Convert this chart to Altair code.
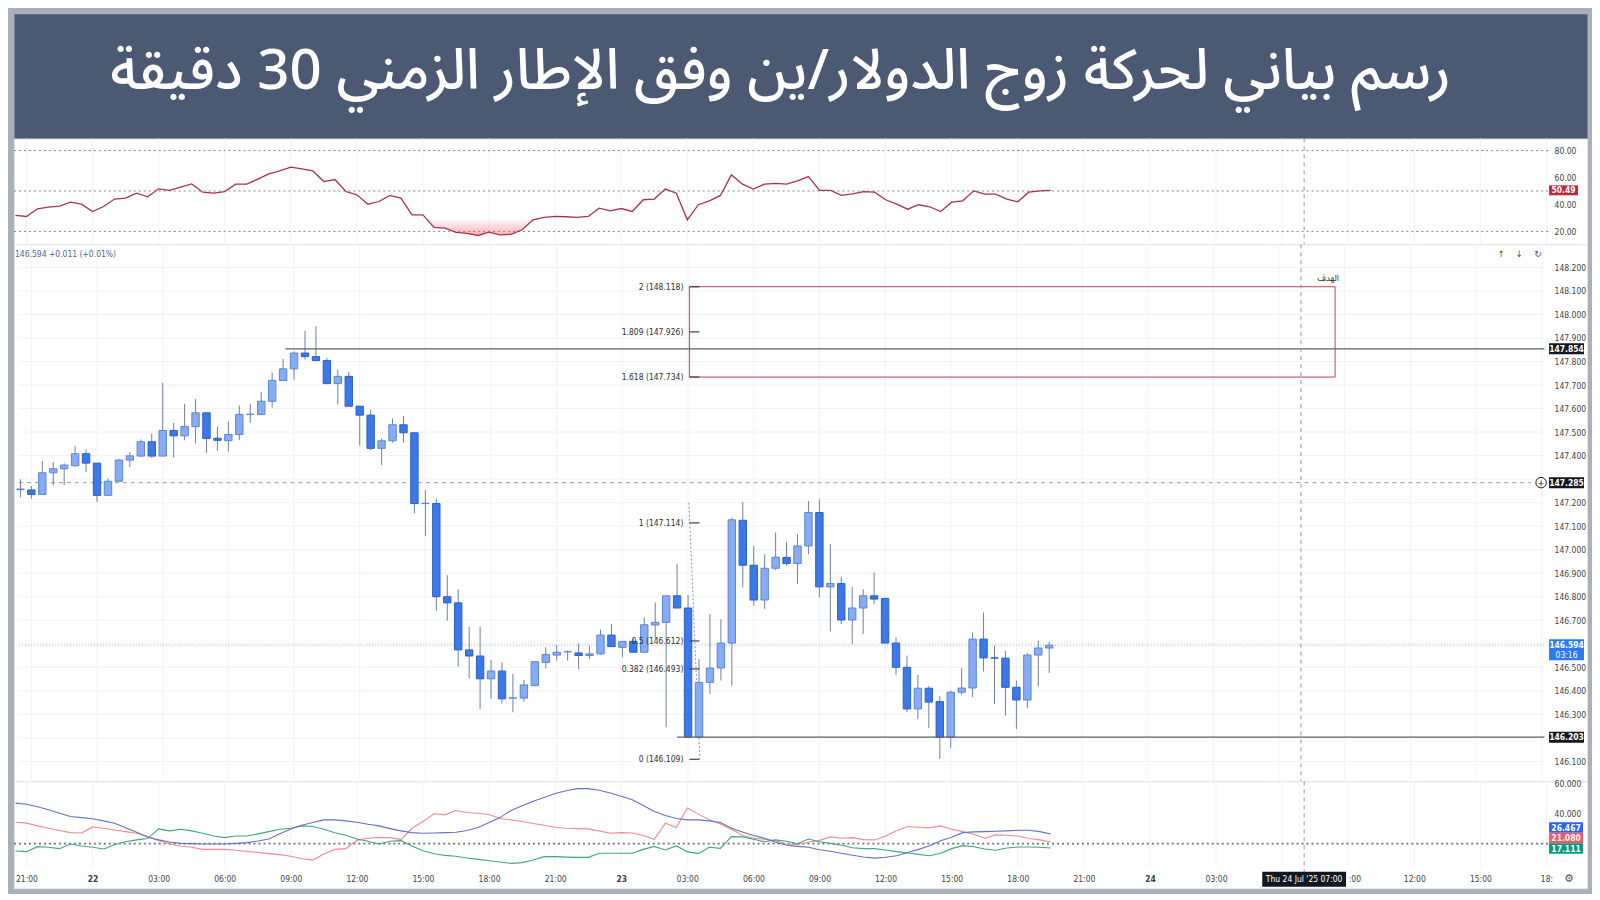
import altair as alt
import pandas as pd

TITLE = "رسم بياني لحركة زوج الدولار/ين وفق الإطار الزمني 30 دقيقة"

# ---- 30-minute USD/JPY candles (first bar = Mon 21 Jul 20:30) ----
OPEN = [147.255, 147.254, 147.235, 147.327, 147.344, 147.357, 147.408, 147.368, 147.231, 147.291,
        147.381, 147.398, 147.459, 147.398, 147.507, 147.484, 147.523, 147.582, 147.474, 147.463,
        147.490, 147.575, 147.575, 147.631, 147.719, 147.769, 147.836, 147.821, 147.804, 147.706,
        147.737, 147.610, 147.572, 147.431, 147.463, 147.531, 147.497, 147.196, 147.196, 146.800,
        146.774, 146.574, 146.548, 146.451, 146.484, 146.369, 146.369, 146.422, 146.521, 146.552,
        146.566, 146.561, 146.550, 146.557, 146.637, 146.585, 146.610, 146.564, 146.680, 146.691,
        146.804, 146.752, 146.203, 146.436, 146.497, 146.603, 147.125, 146.934, 146.786, 146.921,
        146.967, 146.941, 147.016, 147.158, 146.842, 146.856, 146.701, 146.752, 146.804, 146.793,
        146.603, 146.500, 146.323, 146.411, 146.354, 146.203, 146.394, 146.412, 146.620, 146.540,
        146.539, 146.415, 146.361, 146.552, 146.582]
HIGH = [147.299, 147.271, 147.377, 147.373, 147.367, 147.440, 147.426, 147.368, 147.302, 147.387,
        147.415, 147.469, 147.493, 147.709, 147.539, 147.620, 147.641, 147.582, 147.524, 147.545,
        147.613, 147.620, 147.670, 147.754, 147.811, 147.843, 147.931, 147.950, 147.815, 147.766,
        147.756, 147.610, 147.596, 147.473, 147.558, 147.568, 147.497, 147.254, 147.217, 146.892,
        146.832, 146.673, 146.673, 146.531, 146.521, 146.472, 146.446, 146.524, 146.585, 146.595,
        146.572, 146.602, 146.592, 146.660, 146.684, 146.610, 146.620, 146.712, 146.776, 146.804,
        146.941, 146.807, 146.535, 146.726, 146.705, 147.136, 147.203, 147.016, 146.981, 147.073,
        147.033, 147.066, 147.207, 147.214, 147.023, 146.885, 146.842, 146.832, 146.903, 146.793,
        146.627, 146.550, 146.468, 146.420, 146.377, 146.401, 146.497, 146.649, 146.733, 146.592,
        146.571, 146.443, 146.561, 146.613, 146.609]
LOW = [147.222, 147.217, 147.235, 147.274, 147.274, 147.353, 147.330, 147.203, 147.231, 147.291,
       147.351, 147.394, 147.391, 147.398, 147.391, 147.465, 147.452, 147.412, 147.421, 147.418,
       147.466, 147.539, 147.575, 147.603, 147.719, 147.723, 147.808, 147.804, 147.706, 147.617,
       147.610, 147.443, 147.423, 147.361, 147.455, 147.455, 147.155, 147.059, 146.740, 146.698,
       146.503, 146.453, 146.323, 146.366, 146.347, 146.309, 146.354, 146.422, 146.496, 146.528,
       146.528, 146.493, 146.535, 146.553, 146.588, 146.542, 146.561, 146.564, 146.620, 146.245,
       146.752, 146.203, 146.203, 146.387, 146.444, 146.422, 146.839, 146.762, 146.747, 146.913,
       146.931, 146.854, 146.981, 146.797, 146.653, 146.684, 146.599, 146.641, 146.769, 146.603,
       146.468, 146.309, 146.281, 146.241, 146.111, 146.156, 146.383, 146.373, 146.482, 146.344,
       146.295, 146.238, 146.326, 146.419, 146.476]
CLOSE = [147.258, 147.235, 147.327, 147.344, 147.360, 147.408, 147.368, 147.231, 147.291, 147.381,
         147.399, 147.459, 147.398, 147.507, 147.484, 147.524, 147.582, 147.473, 147.465, 147.490,
         147.575, 147.576, 147.631, 147.720, 147.769, 147.836, 147.821, 147.804, 147.706, 147.737,
         147.610, 147.572, 147.431, 147.463, 147.531, 147.497, 147.196, 147.197, 146.800, 146.774,
         146.574, 146.548, 146.451, 146.484, 146.366, 146.370, 146.425, 146.524, 146.554, 146.564,
         146.566, 146.550, 146.557, 146.637, 146.588, 146.610, 146.564, 146.681, 146.691, 146.804,
         146.752, 146.203, 146.436, 146.497, 146.603, 147.127, 146.934, 146.786, 146.921, 146.968,
         146.941, 147.016, 147.158, 146.842, 146.856, 146.701, 146.752, 146.804, 146.790, 146.603,
         146.500, 146.323, 146.411, 146.352, 146.203, 146.394, 146.412, 146.620, 146.540, 146.539,
         146.415, 146.361, 146.552, 146.582, 146.594]

RSI = [31.9, 31.1, 36.8, 38.0, 38.8, 41.7, 40.2, 34.8, 38.5, 44.0,
       44.7, 48.4, 45.7, 51.6, 50.4, 52.8, 55.3, 49.1, 48.4, 49.6,
       55.1, 55.1, 58.8, 62.7, 64.9, 67.7, 66.4, 64.9, 57.0, 58.5,
       49.6, 47.2, 40.2, 42.2, 46.7, 44.7, 32.3, 32.3, 23.0, 22.5,
       19.3, 18.5, 17.0, 19.5, 17.5, 17.8, 21.2, 28.6, 30.4, 31.1,
       30.9, 30.4, 31.1, 37.3, 35.3, 37.0, 34.8, 43.5, 44.0, 51.4,
       48.4, 28.6, 39.8, 42.7, 46.7, 62.0, 55.1, 51.4, 55.1, 55.6,
       55.1, 57.5, 60.7, 50.4, 50.4, 46.7, 47.9, 49.6, 49.1, 43.5,
       40.2, 36.5, 39.8, 38.3, 34.8, 41.7, 42.7, 50.1, 47.7, 47.7,
       44.0, 42.0, 49.1, 50.1, 50.49]

ADX = [46.9, 46.2, 44.5, 42.5, 40.2, 38.0, 37.3, 36.5, 35.1, 33.6,
       30.5, 27.6, 24.2, 22.5, 21.1, 20.2, 20.0, 19.8, 19.8, 19.8,
       20.2, 20.7, 21.8, 23.1, 26.5, 29.8, 32.2, 34.0, 35.8, 35.8,
       35.1, 34.2, 32.9, 31.8, 30.0, 28.5, 27.3, 26.9, 27.1, 27.3,
       27.6, 28.7, 30.7, 34.0, 37.3, 42.0, 45.1, 48.2, 50.7, 53.3,
       55.1, 56.5, 56.5, 55.4, 53.6, 51.4, 49.1, 45.3, 41.4, 38.7,
       36.7, 35.8, 35.8, 35.1, 34.0, 30.2, 27.8, 25.4, 23.6, 20.9,
       18.9, 18.2, 17.6, 16.0, 15.0, 13.6, 12.3, 11.2, 10.4, 11.0,
       12.0, 14.2, 16.2, 18.6, 22.0, 24.2, 27.3, 27.8, 28.0, 28.2,
       28.5, 28.9, 28.9, 28.0, 26.467]
DI_MINUS = [34.2, 33.6, 31.8, 30.2, 28.7, 27.3, 27.1, 31.1, 30.2, 29.1,
            28.0, 26.9, 24.7, 22.0, 19.8, 18.5, 17.6, 16.2, 16.2, 16.2,
            15.6, 14.9, 14.2, 13.4, 12.7, 11.6, 10.0, 9.1, 13.1, 16.2,
            16.7, 22.2, 23.6, 24.2, 24.0, 22.7, 30.2, 34.7, 39.8, 39.1,
            42.0, 40.7, 40.2, 39.4, 36.7, 35.8, 34.7, 33.4, 32.2, 30.9,
            30.2, 30.0, 29.8, 28.5, 26.9, 27.3, 27.1, 25.4, 22.9, 33.6,
            30.7, 43.6, 39.6, 35.8, 33.1, 29.6, 25.6, 23.6, 22.9, 22.0,
            19.8, 19.3, 20.9, 22.2, 24.5, 23.6, 24.0, 22.7, 22.5, 25.1,
            28.5, 31.4, 30.9, 30.5, 31.8, 29.6, 28.0, 26.2, 23.6, 25.8,
            25.6, 25.1, 23.4, 22.5, 21.08]
DI_PLUS = [15.1, 14.7, 18.0, 17.6, 16.7, 19.8, 18.5, 17.6, 16.5, 19.3,
           21.3, 22.5, 23.4, 29.8, 28.5, 29.6, 28.5, 26.9, 25.1, 24.0,
           25.1, 25.1, 26.5, 28.0, 29.6, 30.2, 31.8, 31.4, 29.6, 27.3,
           25.6, 23.1, 21.6, 19.8, 21.6, 22.0, 18.5, 15.3, 13.3, 12.2,
           11.6, 10.5, 9.6, 8.7, 7.8, 6.9, 7.4, 9.1, 11.4, 11.4,
           11.1, 10.9, 10.9, 13.6, 13.6, 13.6, 13.6, 16.2, 18.2, 15.8,
           18.5, 14.7, 13.4, 17.6, 16.9, 24.7, 24.5, 22.9, 21.3, 22.5,
           21.6, 20.0, 23.1, 21.3, 20.2, 18.9, 17.3, 16.7, 16.7, 15.8,
           14.7, 13.8, 12.9, 12.0, 13.6, 16.7, 18.7, 18.0, 16.5, 15.6,
           17.1, 17.8, 17.8, 17.6, 17.111]

# time axis: hours counted from Mon 21 Jul 21:00; 30-minute bars
FIRST_BAR_H = -0.5
BAR_STEP_H = 0.5
X_TICKS = [0, 3, 6, 9, 12, 15, 18, 21, 24, 27, 30, 33, 36, 39, 42, 45, 48, 51, 54, 60, 63, 66, 69]
GRID_TICKS = list(range(0, 70, 3))
CROSS_H = 58                      # Thu 24 Jul 07:00
CROSS_LABEL = "Thu 24 Jul '25    07:00"
PARTIAL_TICKS = {60: ":00", 69: "18:"}   # labels partly hidden in the screenshot

# price labels hidden behind the value tags are left out (146.2, 146.6, 147.3)
PRICE_TICKS = [146.1, 146.3, 146.4, 146.5, 146.7, 146.8, 146.9, 147.0, 147.1,
               147.2, 147.4, 147.5, 147.6, 147.7, 147.8, 147.9, 148.0, 148.1, 148.2]
PRICE_GRID = [146.1, 146.2, 146.3, 146.4, 146.5, 146.6, 146.7, 146.8, 146.9, 147.0, 147.1,
              147.2, 147.3, 147.4, 147.5, 147.6, 147.7, 147.8, 147.9, 148.0, 148.1, 148.2]
RSI_TICKS = [20, 40, 60, 80]
RSI_LEVELS = [80, 50, 20]
DMI_TICKS = [40, 60]
DMI_LEVEL = 20

FIB_RATIOS = ["2", "1.809", "1.618", "1", "0.5", "0.382", "0"]
FIB_PRICES = [148.118, 147.926, 147.734, 147.114, 146.612, 146.493, 146.109]
FIB_START_H = 30.06
FIB_TICK_END_H = 30.52
FIB_TREND_H = [30.04, 30.54]
FIB_TREND_P = [147.200, 146.109]
TARGET_END_H = 59.56
TARGET_TOP, TARGET_BOTTOM = 148.118, 147.734
TARGET_LABEL = "الهدف"
RESIST, RESIST_START_H = 147.854, 11.6
SUPPORT, SUPPORT_START_H = 146.203, 29.5
ALERT, ALERT_END_H = 147.285, 68.5
LAST = 146.594
LAST_INFO = "146.594 +0.011 (+0.01%)"
COUNTDOWN = "03:16"

# ---- styling ----
FRAME = "#aab0b9"
TITLE_BG = "#4b5a72"
FONT = "Liberation Sans Narrow, DejaVu Sans Condensed, Roboto, sans-serif"
AR_FONT = "Noto Sans Arabic, Noto Naskh Arabic, DejaVu Sans, sans-serif"
UP_FILL, UP_STROKE = "#88acf2", "#5a85db"
DN_FILL, DN_STROKE = "#3d79e6", "#2a5ecd"
WICK = "#6f7ea3"
GRID = "#f0f2f6"
LBL = "#3c3f47"

W = 1576
TITLE_HT, RSI_HT, MAIN_HT, DMI_HT = 125, 106, 538, 107
XMIN, XMAX = -0.566, 70.84
AXIS_EDGE_H = 69.12
xs = alt.Scale(domain=[XMIN, XMAX], nice=False, zero=False)

N = len(OPEN)
H = [FIRST_BAR_H + BAR_STEP_H * i for i in range(N)]
candles = pd.DataFrame({"h": H, "open": OPEN, "high": HIGH, "low": LOW, "close": CLOSE})


def X(field, axis=None):
    return alt.X(f"{field}:Q", scale=xs, axis=axis)


def right_axis(values, fmt):
    return alt.Axis(orient="right", offset=-38, values=values, format=fmt, labelFont=FONT,
                    labelFontSize=8.5, labelColor=LBL, ticks=False, tickSize=0, domain=False,
                    grid=False, title=None, labelPadding=5)


def box_path(w, h):
    r = h / w
    return f"M-1,{-r:.4f}L1,{-r:.4f}L1,{r:.4f}L-1,{r:.4f}Z"


def tag(value, text, fill, Y, xc, w=35, h=11, yoff=0, text_yoff=0):
    df = pd.DataFrame({"v": [value], "t": [text]})
    b = alt.Chart(df).mark_point(shape=box_path(w, h), size=w * w, filled=True, fill=fill,
                                 opacity=1, strokeWidth=0, yOffset=yoff).encode(
        x=alt.value(xc), y=Y("v"))
    t = alt.Chart(df).mark_text(font=FONT, fontSize=8.5, fontWeight="bold", color="white",
                                align="center", baseline="middle", yOffset=text_yoff).encode(
        x=alt.value(xc), y=Y("v"), text="t:N")
    return [b, t]


def vgrid():
    return alt.Chart(pd.DataFrame({"h": GRID_TICKS})).mark_rule(color=GRID, strokeWidth=1).encode(x=X("h"))


def cross():
    return alt.Chart(pd.DataFrame({"h": [CROSS_H]})).mark_rule(
        color="#9598a1", strokeDash=[4, 4], strokeWidth=1).encode(x=X("h"))


# ---------------- title ----------------
title_panel = alt.Chart(pd.DataFrame({"t": [TITLE]})).mark_text(
    font=AR_FONT, fontSize=56.5, fontWeight=500, color="white", align="center", baseline="middle"
).encode(x=alt.value(768), y=alt.value(58), text="t:N").properties(
    width=W, height=TITLE_HT, view=alt.ViewBackground(fill=TITLE_BG, stroke="transparent"))

# ---------------- RSI ----------------
ys_rsi = alt.Scale(domain=[10.37, 88.9], nice=False, zero=False)
ax_rsi = right_axis(RSI_TICKS, ".2f")


def Yr(f):
    return alt.Y(f"{f}:Q", scale=ys_rsi, axis=ax_rsi)


rsi_df = pd.DataFrame({"h": H, "rsi": RSI})
rsi_levels = pd.DataFrame({"y": RSI_LEVELS, "x1": XMIN, "x2": AXIS_EDGE_H})
rsi_layers = [
    vgrid(),
    alt.Chart(rsi_levels).mark_rule(color="#83868f", strokeDash=[2, 3], strokeWidth=1).encode(
        x=X("x1"), x2="x2:Q", y=Yr("y")),
    alt.Chart(rsi_df).transform_calculate(lo="min(datum.rsi, 30)").mark_area(
        color=alt.Gradient(gradient="linear",
                           stops=[alt.GradientStop(color="rgba(242,80,100,0.0)", offset=0),
                                  alt.GradientStop(color="rgba(242,80,100,0.45)", offset=1)],
                           x1=1, x2=1, y1=0, y2=1)
    ).encode(x=X("h"), y=Yr("lo"), y2=alt.datum(30)),
    alt.Chart(rsi_df).mark_line(color="#a8334f", strokeWidth=1.3).encode(x=X("h"), y=Yr("rsi")),
    cross(),
] + tag(RSI[-1], f"{RSI[-1]:.2f}", "#c3263d", Yr, 1552.5, w=29, h=10)
rsi_panel = alt.layer(*rsi_layers).properties(
    width=W, height=RSI_HT, view=alt.ViewBackground(fill="white", stroke="#e2e4ea"))

# ---------------- price ----------------
ys_p = alt.Scale(domain=[146.015, 148.298], nice=False, zero=False)
ax_p = right_axis(PRICE_TICKS, ".3f")


def Yp(f):
    return alt.Y(f"{f}:Q", scale=ys_p, axis=ax_p)


hgrid_p = pd.DataFrame({"y": PRICE_GRID, "x1": XMIN, "x2": AXIS_EDGE_H})
solid_lines = pd.DataFrame({"y": [RESIST, SUPPORT], "x1": [RESIST_START_H, SUPPORT_START_H],
                            "x2": [AXIS_EDGE_H, AXIS_EDGE_H]})
alert_line = pd.DataFrame({"y": [ALERT], "x1": [XMIN], "x2": [ALERT_END_H]})
last_line = pd.DataFrame({"y": [LAST], "x1": [XMIN], "x2": [AXIS_EDGE_H]})
target = pd.DataFrame({"x1": [FIB_START_H], "x2": [TARGET_END_H], "y1": [TARGET_TOP], "y2": [TARGET_BOTTOM]})
fib = pd.DataFrame({"p": FIB_PRICES, "t": [f"{r} ({p:.3f})" for r, p in zip(FIB_RATIOS, FIB_PRICES)],
                    "x1": FIB_START_H, "x2": FIB_TICK_END_H})
trend = pd.DataFrame({"h": FIB_TREND_H, "p": FIB_TREND_P})
up = "datum.close >= datum.open"

main_layers = [
    vgrid(),
    alt.Chart(hgrid_p).mark_rule(color=GRID).encode(x=X("x1"), x2="x2:Q", y=Yp("y")),
    alt.Chart(last_line).mark_rule(color="#aeb1ba", strokeDash=[1, 2]).encode(x=X("x1"), x2="x2:Q", y=Yp("y")),
    alt.Chart(alert_line).mark_rule(color="#9598a1", strokeDash=[4, 4]).encode(x=X("x1"), x2="x2:Q", y=Yp("y")),
    alt.Chart(target).mark_rect(fill="transparent", stroke="#c53e58", strokeWidth=1).encode(
        x=X("x1"), x2="x2:Q", y=Yp("y1"), y2="y2:Q"),
    alt.Chart(trend).mark_line(color="#8d9099", strokeDash=[2, 2], strokeWidth=1).encode(x=X("h"), y=Yp("p")),
    alt.Chart(candles).mark_rule(color=WICK, strokeWidth=1).encode(x=X("h"), y=Yp("low"), y2="high:Q"),
    alt.Chart(candles).mark_bar(size=7.4, strokeWidth=1).encode(
        x=X("h"), y=Yp("open"), y2="close:Q",
        fill=alt.condition(up, alt.value(UP_FILL), alt.value(DN_FILL)),
        stroke=alt.condition(up, alt.value(UP_STROKE), alt.value(DN_STROKE))),
    alt.Chart(solid_lines).mark_rule(color="#5d6068", strokeWidth=1.2).encode(x=X("x1"), x2="x2:Q", y=Yp("y")),
    alt.Chart(fib).mark_rule(color="#3f424a", strokeWidth=1.2).encode(x=X("x1"), x2="x2:Q", y=Yp("p")),
    alt.Chart(fib).mark_text(font=FONT, fontSize=8.5, color="#2b2e36", align="right", baseline="middle", dx=-6).encode(
        x=X("x1"), y=Yp("p"), text="t:N"),
    alt.Chart(pd.DataFrame({"h": [TARGET_END_H], "p": [TARGET_TOP], "t": [TARGET_LABEL]})).mark_text(
        font=AR_FONT, fontSize=8.5, color="#2b2e36", align="center", baseline="middle", dx=-7, dy=-9).encode(
        x=X("h"), y=Yp("p"), text="t:N"),
    cross(),
    alt.Chart(pd.DataFrame({"t": [LAST_INFO]})).mark_text(
        font=FONT, fontSize=8.5, color="#4c64a0", align="left", baseline="middle").encode(
        x=alt.value(1), y=alt.value(10), text="t:N"),
    alt.Chart(pd.DataFrame({"t": ["↑", "↓", "↻"], "x": [1490, 1508, 1527]})).mark_text(
        font="DejaVu Sans", fontSize=9, color="#50535c", align="center", baseline="middle").encode(
        x=alt.X("x:Q", scale=None), y=alt.value(10), text="t:N"),
    alt.Chart(pd.DataFrame({"v": [ALERT]})).mark_point(shape="circle", size=110, filled=True, fill="white",
                                                     stroke="#131722", strokeWidth=1, opacity=1).encode(
        x=alt.value(1530), y=Yp("v")),
    alt.Chart(pd.DataFrame({"v": [ALERT], "t": ["+"]})).mark_text(
        font="DejaVu Sans", fontSize=9, color="#131722", align="center", baseline="middle").encode(
        x=alt.value(1530), y=Yp("v"), text="t:N"),
]
main_layers += tag(RESIST, f"{RESIST:.3f}", "#131722", Yp, 1555.5)
main_layers += tag(ALERT, f"{ALERT:.3f}", "#131722", Yp, 1555.5)
main_layers += tag(SUPPORT, f"{SUPPORT:.3f}", "#131722", Yp, 1555.5)
main_layers += tag(LAST, f"{LAST:.3f}", "#2a7bf5", Yp, 1555.5, h=21, yoff=4.5)
main_layers += [alt.Chart(pd.DataFrame({"v": [LAST], "t": [COUNTDOWN]})).mark_text(
    font=FONT, fontSize=8.5, color="white", align="center", baseline="middle", yOffset=9.5).encode(
    x=alt.value(1555.5), y=Yp("v"), text="t:N")]
main_panel = alt.layer(*main_layers).properties(
    width=W, height=MAIN_HT, view=alt.ViewBackground(fill="white", stroke="#e2e4ea"))

# ---------------- DMI ----------------
ys_d = alt.Scale(domain=[-9.53, 61.33], nice=False, zero=False)
ax_d = right_axis(DMI_TICKS, ".3f")
partial_expr = "".join(f"datum.value == {k} ? '{v}' : " for k, v in PARTIAL_TICKS.items())
lab_expr = (partial_expr +
            "(datum.value + 21) % 24 == 0 ? toString(21 + (datum.value + 21) / 24) : "
            "(((datum.value + 21) % 24) < 10 ? '0' : '') + toString((datum.value + 21) % 24) + ':00'")
ax_x = alt.Axis(orient="bottom", offset=-21, values=X_TICKS, labelExpr=lab_expr, labelFont=FONT,
                labelFontSize=8.5, labelColor=LBL, ticks=False, tickSize=0, domain=False, grid=False,
                title=None, labelPadding=7, labelOverlap=False, labelFlush=False,
                labelAlign={"condition": {"test": "datum.value == 60", "value": "left"}, "value": "center"},
                labelFontWeight={"condition": {"test": "(datum.value + 21) % 24 == 0", "value": "bold"},
                                 "value": "normal"})


def Yd(f):
    return alt.Y(f"{f}:Q", scale=ys_d, axis=ax_d)


dmi_df = pd.DataFrame({"h": H, "adx": ADX, "dim": DI_MINUS, "dip": DI_PLUS})
dmi_level = pd.DataFrame({"y": [DMI_LEVEL], "x1": [XMIN], "x2": [AXIS_EDGE_H]})
dmi_layers = [
    alt.Chart(pd.DataFrame({"h": GRID_TICKS})).mark_rule(color=GRID).encode(
        x=X("h", ax_x), y=alt.value(0), y2=alt.value(DMI_HT - 21)),
    alt.Chart(dmi_level).mark_rule(color="#6f727b", strokeDash=[2, 3], strokeWidth=1.6).encode(
        x=X("x1", ax_x), x2="x2:Q", y=Yd("y")),
    alt.Chart(dmi_df).mark_line(color="#f08c91", strokeWidth=1.1).encode(x=X("h", ax_x), y=Yd("dim")),
    alt.Chart(dmi_df).mark_line(color="#43a57e", strokeWidth=1.1).encode(x=X("h", ax_x), y=Yd("dip")),
    alt.Chart(dmi_df).mark_line(color="#6472c4", strokeWidth=1.1).encode(x=X("h", ax_x), y=Yd("adx")),
    alt.Chart(pd.DataFrame({"h": [CROSS_H]})).mark_rule(color="#9598a1", strokeDash=[4, 4]).encode(
        x=X("h", ax_x), y=alt.value(0), y2=alt.value(DMI_HT - 14)),
]
dmi_layers += tag(ADX[-1], f"{ADX[-1]:.3f}", "#2962ff", Yd, 1555, w=34, h=10.5, yoff=-6.4, text_yoff=-6.4)
dmi_layers += tag(DI_MINUS[-1], f"{DI_MINUS[-1]:.3f}", "#f25763", Yd, 1555, w=34, h=10.5, yoff=-4.1, text_yoff=-4.1)
dmi_layers += tag(DI_PLUS[-1], f"{DI_PLUS[-1]:.3f}", "#089981", Yd, 1555, w=34, h=10.5, yoff=0.5, text_yoff=0.5)
cross_df = pd.DataFrame({"h": [CROSS_H], "t": [CROSS_LABEL]})
dmi_layers += [
    alt.Chart(cross_df).mark_point(shape=box_path(84, 15), size=84 * 84, filled=True, fill="#131722",
                                   opacity=1, strokeWidth=0).encode(x=X("h", ax_x), y=alt.value(DMI_HT - 9)),
    alt.Chart(cross_df).mark_text(font=FONT, fontSize=8.5, color="white", align="center",
                                  baseline="middle").encode(x=X("h", ax_x), y=alt.value(DMI_HT - 9), text="t:N"),
    alt.Chart(pd.DataFrame({"t": ["⚙"]})).mark_text(font="DejaVu Sans", fontSize=11, color="#50535c",
                                                  align="center", baseline="middle").encode(
        x=alt.value(1558), y=alt.value(DMI_HT - 9), text="t:N"),
]
dmi_panel = alt.layer(*dmi_layers).properties(
    width=W, height=DMI_HT, view=alt.ViewBackground(fill="white", stroke="#e2e4ea"))

chart = alt.vconcat(title_panel, rsi_panel, main_panel, dmi_panel, spacing=0, bounds="flush").properties(
    background=FRAME, padding=4).configure_concat(spacing=0)

chart.save("out.html", embed_options={"renderer": "svg", "actions": False})
